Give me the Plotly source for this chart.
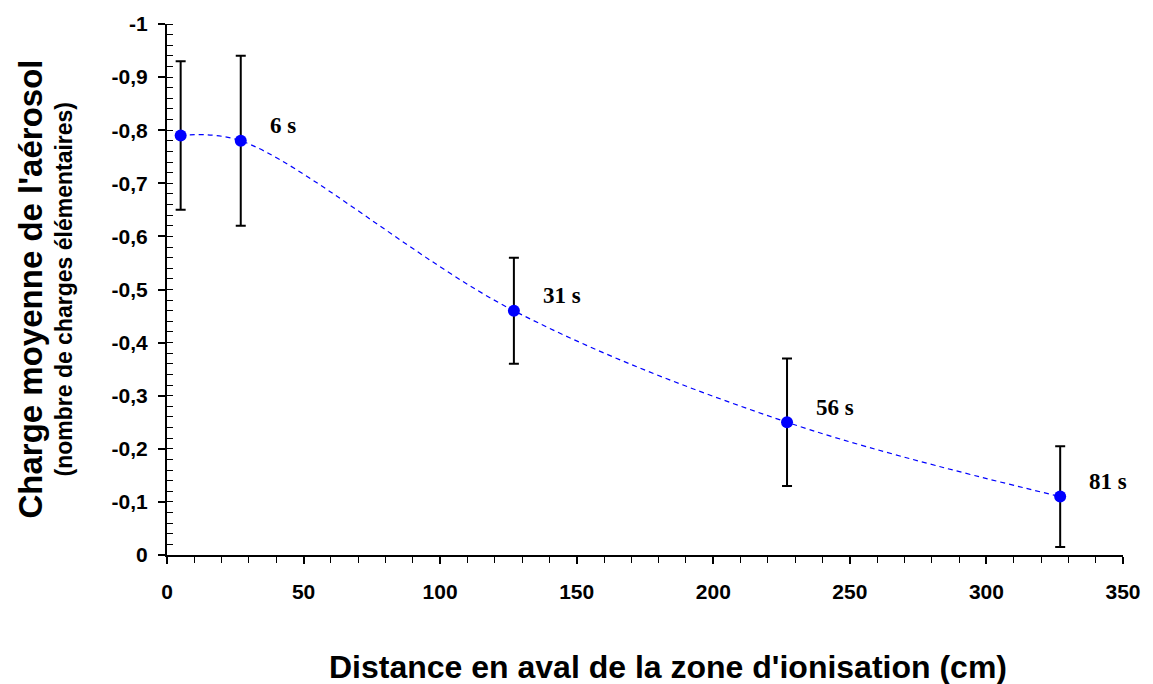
import plotly.graph_objects as go

# Mesures : distance en aval de la zone d'ionisation et charge moyenne
distance_cm = [5, 27, 127, 227, 327]
charge_moyenne = [-0.79, -0.78, -0.46, -0.25, -0.11]
incertitude = [0.14, 0.16, 0.10, 0.12, 0.095]
temps_labels = ["", "6 s", "31 s", "56 s", "81 s"]

# Graduations de l'axe des charges
y_ticks = [0, -0.1, -0.2, -0.3, -0.4, -0.5, -0.6, -0.7, -0.8, -0.9, -1]
y_ticktext = [("%g" % v).replace(".", ",") for v in y_ticks]
x_ticks = [0, 50, 100, 150, 200, 250, 300, 350]

BLUE = "#0000ff"
SANS = "Liberation Sans, Arial, sans-serif"
AXIS_FONT = dict(family=SANS, size=21, color="black", weight="bold")

fig = go.Figure()

fig.add_trace(go.Scatter(
    x=distance_cm,
    y=charge_moyenne,
    mode="lines+markers",
    line=dict(color=BLUE, width=1.2, dash="5px,4px", shape="spline", smoothing=1.0),
    marker=dict(color=BLUE, size=12),
    error_y=dict(type="data", array=incertitude, visible=True,
                 color="black", thickness=2, width=5),
    showlegend=False,
    hoverinfo="x+y",
))

# Étiquettes de temps de séjour à côté des points
for xv, yv, txt in zip(distance_cm, charge_moyenne, temps_labels):
    if txt:
        fig.add_annotation(
            x=xv, y=yv, xref="x", yref="y", text="<b>%s</b>" % txt,
            showarrow=False, xanchor="left", yanchor="middle",
            xshift=27, yshift=15,
            font=dict(family="Liberation Serif, Times New Roman, serif",
                      size=23, color="black"),
        )

# Titres des axes
fig.add_annotation(
    x=0.524, y=0, xref="paper", yref="paper",
    text="<b>Distance en aval de la zone d'ionisation (cm)</b>",
    showarrow=False, xanchor="center", yanchor="middle", yshift=-112,
    font=dict(family=SANS, size=32, color="black"),
)
fig.add_annotation(
    x=0, y=0.5, xref="paper", yref="paper",
    text="<b>Charge moyenne de l'aérosol</b>",
    showarrow=False, textangle=-90, xanchor="center", yanchor="middle",
    xshift=-137,
    font=dict(family=SANS, size=33, color="black"),
)
fig.add_annotation(
    x=0, y=0.5, xref="paper", yref="paper",
    text="<b>(nombre de charges élémentaires)</b>",
    showarrow=False, textangle=-90, xanchor="center", yanchor="middle",
    xshift=-104,
    font=dict(family=SANS, size=23, color="black"),
)

fig.update_layout(
    width=1153, height=684,
    margin=dict(l=167, r=25, t=21, b=129),
    paper_bgcolor="white", plot_bgcolor="white",
    xaxis=dict(
        range=[0, 350], tickvals=x_ticks, ticktext=[str(v) for v in x_ticks],
        ticks="outside", ticklen=7, tickwidth=1.5, tickcolor="black",
        showline=True, linecolor="black", linewidth=2,
        showgrid=False, zeroline=False, tickfont=AXIS_FONT,
        ticklabelstandoff=10,
        minor=dict(dtick=10, ticks="outside", ticklen=6, tickwidth=1.2,
                   tickcolor="black", showgrid=False),
    ),
    yaxis=dict(
        range=[0, -1], tickvals=y_ticks, ticktext=y_ticktext,
        ticks="outside", ticklen=7, tickwidth=1.5, tickcolor="black",
        showline=True, linecolor="black", linewidth=2,
        showgrid=False, zeroline=False, tickfont=AXIS_FONT,
        ticklabelstandoff=6,
        minor=dict(dtick=0.02, tick0=0, ticks="inside", ticklen=6, tickwidth=1.2,
                   tickcolor="black", showgrid=False),
    ),
    # Axes superposés : prolongent les graduations principales vers l'intérieur
    xaxis2=dict(
        overlaying="x", anchor="y", side="bottom", range=[0, 350],
        tickvals=x_ticks, ticks="inside", ticklen=7, tickwidth=1.5,
        tickcolor="black", showticklabels=False, showline=False,
        showgrid=False, zeroline=False,
    ),
    yaxis2=dict(
        overlaying="y", anchor="x", side="left", range=[0, -1],
        tickvals=y_ticks, ticks="inside", ticklen=7, tickwidth=1.5,
        tickcolor="black", showticklabels=False, showline=False,
        showgrid=False, zeroline=False,
    ),
    separators=", ",
)

fig.write_html("out.html")
